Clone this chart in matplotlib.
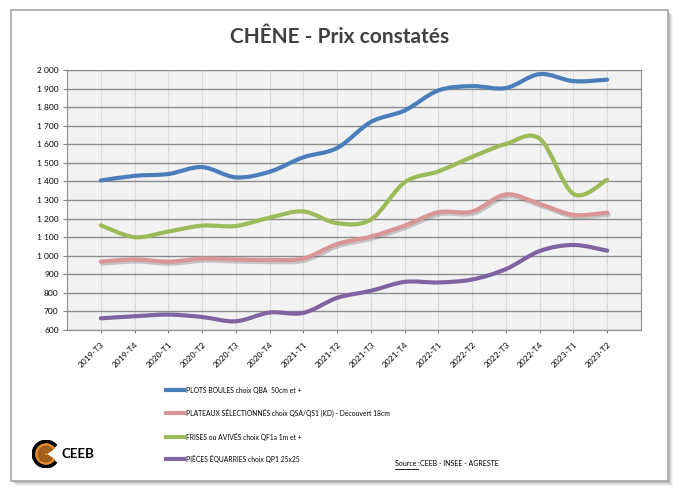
import numpy as np
import matplotlib
matplotlib.use('Agg')
from matplotlib import pyplot as plt
from matplotlib.path import Path
from matplotlib.patches import PathPatch, Rectangle, Wedge
from matplotlib import patheffects as pe

plt.rcParams['font.family'] = ['Lato', 'DejaVu Sans']

periods = ['2019-T3', '2019-T4', '2020-T1', '2020-T2', '2020-T3', '2020-T4',
           '2021-T1', '2021-T2', '2021-T3', '2021-T4', '2022-T1', '2022-T2',
           '2022-T3', '2022-T4', '2023-T1', '2023-T2']

plots_boules = [1405, 1430, 1440, 1477, 1422, 1452, 1530, 1580, 1720, 1782, 1890, 1913, 1903, 1978, 1940, 1948]
plateaux = [968, 980, 968, 984, 980, 977, 985, 1063, 1103, 1162, 1234, 1238, 1330, 1279, 1220, 1232]
frises = [1164, 1100, 1130, 1162, 1160, 1205, 1238, 1175, 1195, 1395, 1454, 1532, 1602, 1630, 1333, 1409]
pieces = [663, 674, 683, 670, 647, 694, 692, 773, 811, 859, 856, 872, 928, 1025, 1058, 1027]

series_names = ['PLOTS BOULES choix QBA  50cm et +',
                'PLATEAUX SÉLECTIONNÉS choix QSA/QS1 (KD) - Découvert 18cm',
                'FRISES ou AVIVÉS choix QF1a 1m et +',
                'PIÈCES ÉQUARRIES choix QP1 25x25']
colors = ['#4a7ebb', '#d99694', '#9bbb59', '#8064a2']

yticks = list(range(600, 2001, 100))


def smooth_path(xs, ys):
    # excel style smoothed line: bezier through the points
    pts = np.column_stack([xs, ys]).astype(float)
    n = len(pts)
    verts = [pts[0]]
    codes = [Path.MOVETO]
    for i in range(n - 1):
        p0 = pts[max(i - 1, 0)]
        p1 = pts[i]
        p2 = pts[i + 1]
        p3 = pts[min(i + 2, n - 1)]
        verts += [p1 + (p2 - p0) / 6, p2 - (p3 - p1) / 6, p2]
        codes += [Path.CURVE4] * 3
    return Path(verts, codes)


fig = plt.figure(figsize=(6.86, 5.01), dpi=100)
fig.patch.set_facecolor('white')

# card with shadow
for k, a in enumerate([0.10, 0.08, 0.06, 0.04]):
    fig.patches.append(Rectangle(((11 + 2 + k) / 686, 1 - (481 + 2 + k) / 501),
                                 657 / 686, 471 / 501, transform=fig.transFigure,
                                 facecolor='black', alpha=a, edgecolor='none', zorder=-3))
fig.patches.append(Rectangle((11 / 686, 1 - 481 / 501), 657 / 686, 471 / 501,
                             transform=fig.transFigure, facecolor='white',
                             edgecolor='#a6a6a6', linewidth=1.2, zorder=-2))

ax = fig.add_axes([67 / 686, 1 - 330 / 501, 574 / 686, 260 / 501])
ax.set_facecolor('#f2f2f2')
x = np.arange(len(periods))
ax.set_xlim(-1, len(periods))
ax.set_ylim(600, 2000)

ax.set_xticks(x)
ax.set_xticklabels(periods, rotation=45, ha='right', rotation_mode='anchor', fontsize=6)
ax.set_yticks(yticks)
ax.set_yticklabels([f'{v:,}'.replace(',', ' ') for v in yticks], fontsize=6)
ax.tick_params(axis='x', length=2.5, color='#808080', pad=5)
ax.tick_params(axis='y', length=3, color='#808080', pad=3)
ax.grid(axis='y', color='#8c8c8c', linewidth=1.0)
ax.grid(axis='x', color='#d9d9d9', linewidth=0.8)
ax.set_axisbelow(True)
for s in ax.spines.values():
    s.set_color('#8c8c8c')

all_series = [plots_boules, plateaux, frises, pieces]
for vals, c in zip(all_series, colors):
    patch = PathPatch(smooth_path(x, vals), fill=False, edgecolor=c, linewidth=3,
                      capstyle='round', zorder=3)
    if c == '#d99694':
        patch.set_path_effects([pe.SimpleLineShadow(offset=(1, -1.5), shadow_color='#606060', alpha=0.3),
                                pe.Normal()])
    ax.add_patch(patch)

fig.text(340 / 686, 1 - 37 / 501, 'CHÊNE - Prix constatés', ha='center', va='center',
         fontsize=15, fontweight='bold', color='#404040')

# legend
leg_y = [390, 413, 437, 459]
for yy, c, name in zip(leg_y, colors, series_names):
    fig.add_artist(plt.Line2D([166 / 686, 184 / 686], [1 - yy / 501, 1 - yy / 501],
                              transform=fig.transFigure, color=c, linewidth=3))
    fig.text(186 / 686, 1 - yy / 501, name, ha='left', va='center', fontsize=4.9, color='black')

# source
fig.text(395 / 686, 1 - 464 / 501, 'Source :', ha='left', va='center', fontsize=5)
fig.add_artist(plt.Line2D([395 / 686, 418 / 686], [1 - 469 / 501, 1 - 469 / 501],
                          transform=fig.transFigure, color='black', linewidth=0.6))
fig.text(420 / 686, 1 - 464 / 501, 'CEEB - INSEE - AGRESTE', ha='left', va='center', fontsize=5)

# logo
lax = fig.add_axes([32 / 686, 1 - 468 / 501, 28 / 686, 28 / 501])
lax.set_xlim(-1, 1)
lax.set_ylim(-1, 1)
lax.set_aspect('equal')
lax.axis('off')
lax.add_patch(Wedge((0, 0), 0.98, 40, 320, width=0.2, color='black'))
lax.add_patch(Wedge((0, 0), 0.72, 35, 325, color='#e8892a'))
for r in [0.55, 0.38, 0.2]:
    lax.add_patch(Wedge((0, 0), r, 35, 325, width=0.06, color='#9a5a1a'))
fig.text(61 / 686, 1 - 454 / 501, 'CEEB', ha='left', va='center', fontsize=9.5, fontweight='bold', color='black')

fig.savefig('out.png', dpi=100)
